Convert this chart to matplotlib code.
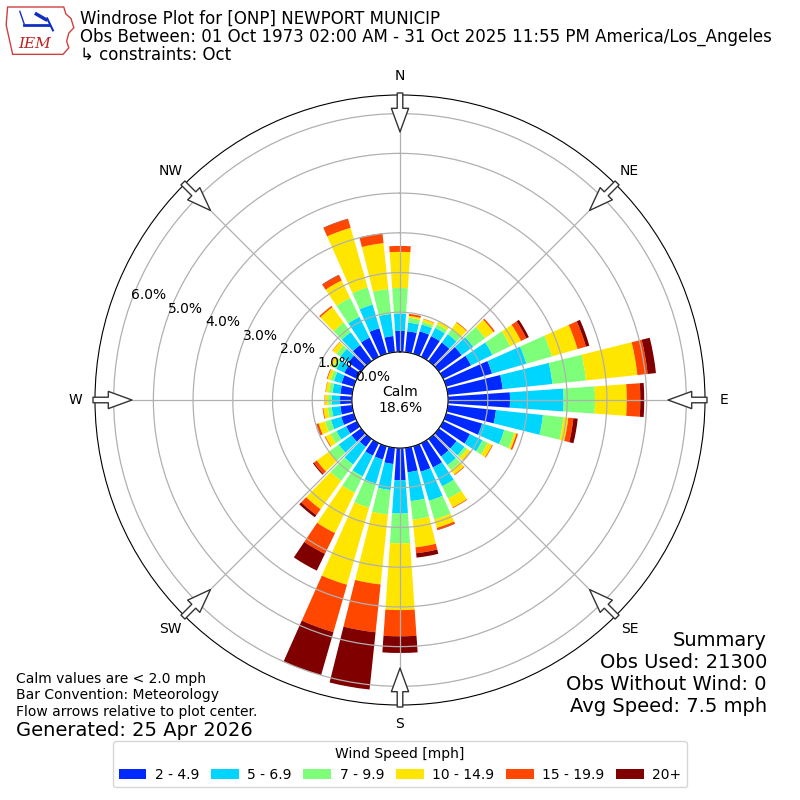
import numpy as np
import matplotlib
matplotlib.use('Agg')
import matplotlib.pyplot as plt
from matplotlib.patches import Patch, Polygon

# ---------------- data ----------------
directions = np.arange(0, 360, 10)          # degrees, meteorological
speed_labels = ['2 - 4.9', '5 - 6.9', '7 - 9.9', '10 - 14.9', '15 - 19.9', '20+']
calm_pct = 18.6

# percent of observations per direction (0,10,...,350) for each speed bin
bin_2_5 = [0.53, 0.53, 0.59, 0.58, 0.58, 0.71, 0.78, 1.20, 1.39, 1.56, 1.22, 0.94,
           0.75, 0.55, 0.55, 0.68, 0.67, 0.62, 0.81, 0.41, 0.35, 0.35, 0.25, 0.30,
           0.30, 0.33, 0.30, 0.30, 0.30, 0.32, 0.35, 0.40, 0.50, 0.54, 0.67, 0.41]
bin_5_7 = [0.44, 0.22, 0.18, 0.23, 0.26, 0.36, 0.60, 0.90, 1.26, 1.35, 1.19, 0.58,
           0.35, 0.25, 0.27, 0.53, 0.76, 0.73, 0.84, 0.66, 0.63, 0.58, 0.55, 0.40,
           0.27, 0.27, 0.22, 0.21, 0.20, 0.20, 0.22, 0.25, 0.40, 0.58, 0.62, 0.56]
bin_7_10 = [0.64, 0.12, 0.07, 0.10, 0.16, 0.37, 0.50, 0.67, 0.85, 0.79, 0.52, 0.26,
            0.15, 0.08, 0.15, 0.34, 0.49, 0.47, 0.75, 0.62, 0.63, 0.46, 0.51, 0.30,
            0.17, 0.15, 0.10, 0.09, 0.09, 0.09, 0.10, 0.12, 0.30, 0.53, 0.45, 0.63]
bin_10_15 = [0.91, 0.05, 0.07, 0.08, 0.20, 0.26, 0.30, 0.67, 1.30, 0.80, 0.12, 0.06,
             0.12, 0.10, 0.14, 0.25, 0.22, 0.70, 1.68, 1.77, 2.02, 1.13, 0.88, 0.38,
             0.14, 0.17, 0.11, 0.08, 0.08, 0.08, 0.07, 0.12, 0.48, 0.49, 1.56, 1.16]
bin_15_20 = [0.15, 0.05, 0.01, 0.01, 0.02, 0.04, 0.15, 0.22, 0.26, 0.34, 0.13, 0.04,
             0.02, 0.02, 0.02, 0.02, 0.05, 0.15, 0.66, 1.21, 1.24, 0.58, 0.18, 0.09,
             0.02, 0.05, 0.02, 0.01, 0.01, 0.02, 0.01, 0.01, 0.04, 0.15, 0.23, 0.25]
bin_20p = [0.00, 0.00, 0.00, 0.00, 0.00, 0.00, 0.07, 0.09, 0.21, 0.10, 0.11, 0.00,
           0.00, 0.00, 0.00, 0.00, 0.01, 0.11, 0.42, 1.45, 1.13, 0.47, 0.07, 0.03,
           0.00, 0.01, 0.00, 0.00, 0.00, 0.00, 0.00, 0.00, 0.00, 0.01, 0.01, 0.00]
bins = [bin_2_5, bin_5_7, bin_7_10, bin_10_15, bin_15_20, bin_20p]

r_ticks = [0, 1, 2, 3, 4, 5, 6]
compass = ['N', 'NE', 'E', 'SE', 'S', 'SW', 'W', 'NW']

title_lines = ['Windrose Plot for [ONP] NEWPORT MUNICIP',
               'Obs Between: 01 Oct 1973 02:00 AM - 31 Oct 2025 11:55 PM America/Los_Angeles',
               '\u21b3 constraints: Oct']
notes = ['Calm values are < 2.0 mph', 'Bar Convention: Meteorology',
         'Flow arrows relative to plot center.']
generated = 'Generated: 25 Apr 2026'
summary = ['Summary', 'Obs Used: 21300', 'Obs Without Wind: 0', 'Avg Speed: 7.5 mph']

# ---------------- figure ----------------
plt.rcParams['font.family'] = ['DejaVu Sans']
fig = plt.figure(figsize=(8, 8), dpi=100)
ax = fig.add_axes([0.11875, 0.11875, 0.7625, 0.7625], projection='polar')
ax.set_theta_zero_location('N')
ax.set_theta_direction(-1)

rmax = 6.47
ax.set_rorigin(-1.21)
ax.set_ylim(0, rmax)

colors = plt.cm.jet(np.arange(1, 7) / 6.0)
theta = np.deg2rad(directions)
width = np.deg2rad(8.0)
base = np.zeros(len(directions))
for vals, c, lab in zip(bins, colors, speed_labels):
    vals = np.asarray(vals)
    ax.bar(theta, vals, width=width, bottom=base, color=c, linewidth=0,
           align='center', label=lab, zorder=1)
    base = base + vals

ax.set_yticks(r_ticks)
ax.set_yticklabels(['%.1f%%' % v for v in r_ticks], fontsize=10)
ax.set_rlabel_position(290)
ax.set_thetagrids(np.arange(0, 360, 45), compass, fontsize=10)
ax.tick_params(axis='x', pad=3.5)
ax.grid(True, color='#b0b0b0', lw=0.9)

# calm text
ax.text(0.5, 0.5, 'Calm\n%.1f%%' % calm_pct, transform=ax.transAxes,
        ha='center', va='center', fontsize=10, zorder=5)

# flow arrows
for ang in np.arange(0, 360, 45):
    ax.annotate('', xy=(np.deg2rad(ang), rmax - 0.93), xytext=(np.deg2rad(ang), rmax + 0.05),
                xycoords='data', annotation_clip=False,
                arrowprops=dict(arrowstyle='simple,head_length=0.85,head_width=0.62,tail_width=0.2',
                                fc='white', ec='#333333', lw=1, mutation_scale=20,
                                shrinkA=0, shrinkB=0), zorder=6)

# titles
for i, t in enumerate(title_lines):
    fig.text(0.1, 1 - (19 + 18 * i) / 800, t, fontsize=12, va='center', ha='left')

for i, t in enumerate(notes):
    fig.text(16 / 800, 1 - (679 + 16.5 * i) / 800, t, fontsize=10, va='center', ha='left')
fig.text(16 / 800, 1 - 730 / 800, generated, fontsize=14, va='center', ha='left')

for i, t in enumerate(summary):
    fig.text(767 / 800, 1 - (640 + 22 * i) / 800, t, fontsize=14, va='center', ha='right')

# legend
handles = [Patch(facecolor=c, edgecolor='none') for c in colors]
leg = fig.legend(handles, speed_labels, loc='lower center', bbox_to_anchor=(0.5, 0.007),
                 ncol=6, fontsize=10, title='Wind Speed [mph]', title_fontsize=10,
                 frameon=True, columnspacing=0.85, handlelength=2.0, handletextpad=0.6)

# logo (approximate)
lax = fig.add_axes([0.005, 0.928, 0.09, 0.068])
lax.set_xlim(0, 1)
lax.set_ylim(0, 1)
lax.axis('off')
outline = [(0.05, 0.93), (0.83, 0.93), (0.86, 0.8), (0.93, 0.72), (0.97, 0.55), (0.9, 0.45),
           (0.87, 0.3), (0.9, 0.18), (0.82, 0.06), (0.12, 0.06), (0.08, 0.3), (0.03, 0.6)]
lax.add_patch(Polygon(outline, closed=True, fill=False, ec='#d04040', lw=1))
lax.plot([0.28, 0.62], [0.6, 0.6], color='#1030c0', lw=2)
lax.plot([0.6, 0.68], [0.72, 0.5], color='#1030c0', lw=1.5)
lax.plot([0.22, 0.28], [0.85, 0.62], color='#1030c0', lw=1)
lax.plot([0.45, 0.58], [0.8, 0.7], color='#1030c0', lw=2.5)
lax.text(0.42, 0.25, 'IEM', color='#c02020', fontsize=11, fontstyle='italic',
         family='DejaVu Serif', ha='center', va='center')

fig.savefig('out.png', dpi=100)
